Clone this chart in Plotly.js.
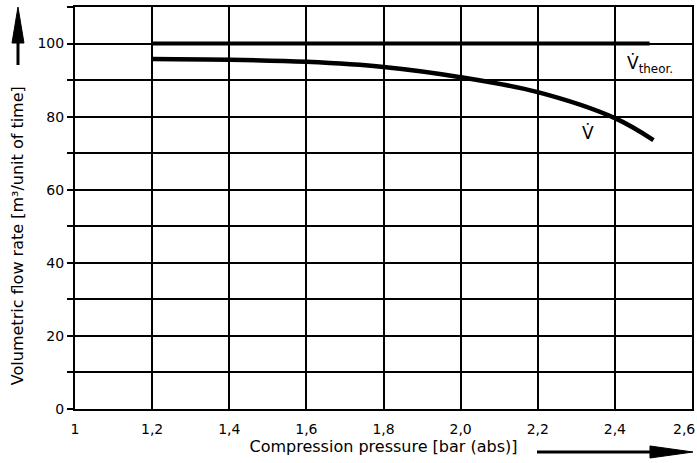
<!DOCTYPE html>
<html>
<head>
<meta charset="utf-8">
<script src="https://cdn.plot.ly/plotly-3.0.1.min.js"></script>
<style>html,body{margin:0;padding:0;background:#fff}#chart{width:697px;height:463px}</style>
</head>
<body>
<div id="chart"></div>
<script>
// Data
const theorX = [1.2, 2.49];
const theorY = [100, 100];
const realX = [1.2, 1.4, 1.6, 1.8, 2.0, 2.2, 2.4, 2.5];
const realY = [95.8, 95.6, 95.0, 93.6, 90.8, 86.7, 79.6, 73.6];

const xTickVals = [1, 1.2, 1.4, 1.6, 1.8, 2.0, 2.2, 2.4];
const xTickText = ['1', '1,2', '1,4', '1,6', '1,8', '2,0', '2,2', '2,4'];
const xLastTick = '2,6';

const FONT = 'DejaVu Sans, sans-serif';

const traces = [
  {x: theorX, y: theorY, mode: 'lines', line: {color: '#000', width: 4}, hoverinfo: 'skip', name: 'V̇theor.'},
  {x: realX, y: realY, mode: 'lines', line: {color: '#000', width: 4.5, shape: 'spline', smoothing: 1}, hoverinfo: 'skip', name: 'V̇'}
];

const layout = {
  width: 697, height: 463,
  margin: {l: 75, r: 5, t: 7, b: 54},
  paper_bgcolor: '#fff', plot_bgcolor: '#fff',
  showlegend: false,
  font: {family: FONT, color: '#000', size: 14},
  xaxis: {
    range: [1, 2.6], tickvals: xTickVals, ticktext: xTickText,
    showgrid: true, gridcolor: '#000', gridwidth: 2,
    showline: true, linecolor: '#000', linewidth: 2, mirror: true,
    ticks: '', zeroline: false, fixedrange: true,
    ticklabelstandoff: 6,
    tickfont: {family: FONT, size: 14},
    title: {text: 'Compression pressure [bar (abs)]', font: {family: FONT, size: 16}, standoff: 4}
  },
  yaxis: {
    range: [0, 110], tick0: 0, dtick: 20,
    showgrid: true, gridcolor: '#000', gridwidth: 2,
    showline: true, linecolor: '#000', linewidth: 2, mirror: true,
    ticks: 'outside', ticklen: 6, tickwidth: 2, tickcolor: '#000',
    minor: {dtick: 10, showgrid: true, gridcolor: '#000', gridwidth: 2,
            ticks: 'outside', ticklen: 6, tickwidth: 2, tickcolor: '#000'},
    zeroline: false, fixedrange: true,
    tickfont: {family: FONT, size: 14}
  },
  shapes: [
    // x-direction arrow
    {type: 'line', xref: 'paper', yref: 'paper', x0: 0.7488, x1: 0.94, y0: -0.107, y1: -0.107,
     line: {color: '#000', width: 3}},
    {type: 'path', xref: 'paper', yref: 'paper', path: 'M 0.9319 -0.0920 L 1.0016 -0.1070 L 0.9319 -0.1219 Z',
     fillcolor: '#000', line: {color: '#000', width: 1}},
    // y-direction arrow
    {type: 'line', xref: 'paper', yref: 'paper', x0: -0.0924, x1: -0.0924, y0: 0.8557, y1: 0.918,
     line: {color: '#000', width: 3}},
    {type: 'path', xref: 'paper', yref: 'paper', path: 'M -0.1021 0.9104 L -0.0924 1.0 L -0.0827 0.9104 Z',
     fillcolor: '#000', line: {color: '#000', width: 1}}
  ],
  annotations: [
    {xref: 'paper', yref: 'paper', x: -0.094, y: 0.43, text: 'Volumetric flow rate [m³/unit of time]',
     textangle: -90, showarrow: false, font: {family: FONT, size: 16}, xanchor: 'center', yanchor: 'middle'},
    {xref: 'paper', yref: 'paper', x: 1.0081, y: -0.026, text: xLastTick, showarrow: false,
     xanchor: 'right', yanchor: 'top', font: {family: FONT, size: 14}},
    {xref: 'x', yref: 'y', x: 2.425, y: 94.3, text: 'V̇<sub>theor.</sub>', showarrow: false,
     xanchor: 'left', yanchor: 'middle', font: {family: FONT, size: 17}},
    {xref: 'x', yref: 'y', x: 2.33, y: 75.5, text: 'V̇', showarrow: false,
     xanchor: 'center', yanchor: 'middle', font: {family: FONT, size: 17}}
  ]
};

Plotly.newPlot('chart', traces, layout, {displayModeBar: false, staticPlot: true});
</script>
</body>
</html>
